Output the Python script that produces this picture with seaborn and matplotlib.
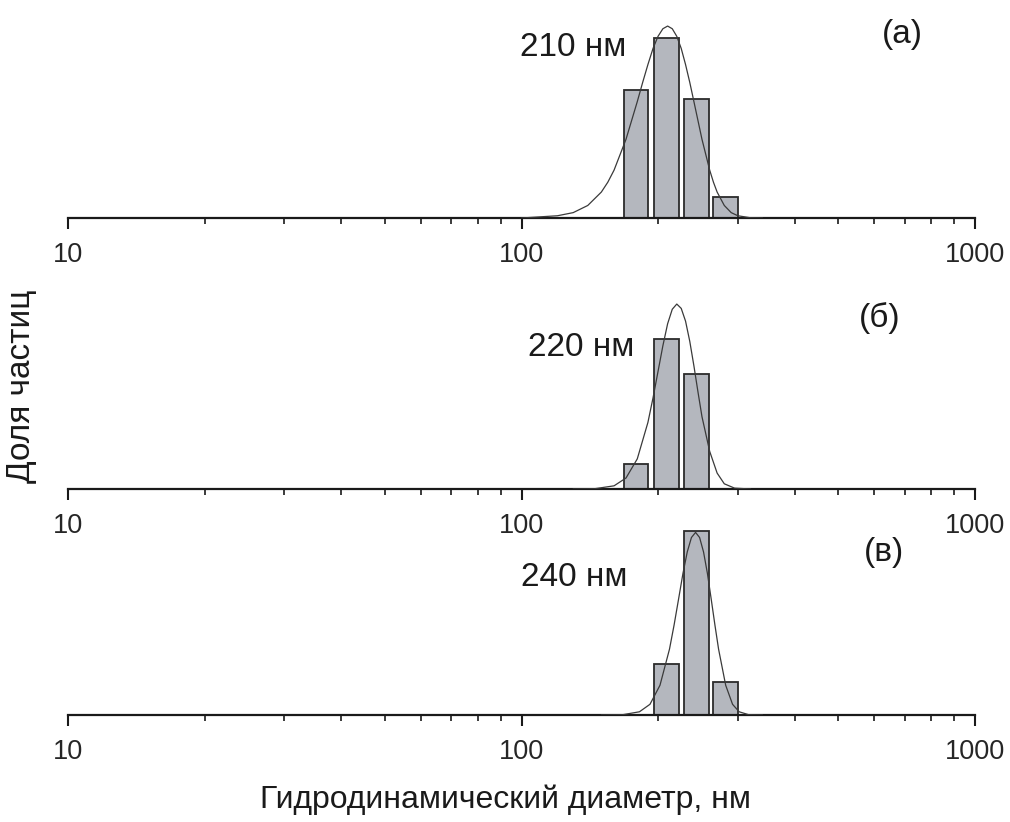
import numpy as np
import seaborn as sns
import matplotlib.pyplot as plt
from matplotlib.ticker import FixedLocator, LogLocator, NullFormatter

# histogram bins (bar centres, nm) and particle share (%) per sample
bins_a = [179, 209, 243, 282]
share_a = [28.7, 40.2, 26.5, 4.7]
bins_b = [179, 209, 243]
share_b = [8.5, 51.8, 39.6]
bins_c = [209, 243, 282]
share_c = [19.0, 68.8, 12.2]

# fitted distribution curves
curve_a_x = [100, 120, 130, 140, 150, 155, 160, 170, 180, 185, 190, 195, 200, 205, 210,
             215, 220, 225, 230, 235, 240, 250, 260, 265, 270, 280, 290, 300, 320, 340]
curve_a_y = [0.0, 0.5, 1.2, 2.8, 5.8, 8.0, 10.7, 17.6, 26.0, 30.3, 34.3, 37.9, 40.6, 42.3, 42.9,
             42.3, 40.6, 37.9, 34.3, 30.3, 26.0, 17.6, 10.7, 8.0, 5.8, 2.8, 1.2, 0.5, 0.05, 0.0]
curve_b_x = [130, 145, 160, 170, 180, 190, 195, 200, 205, 210, 215, 220,
             225, 230, 235, 240, 245, 250, 260, 270, 280, 295, 320]
curve_b_y = [0.0, 0.1, 1.1, 3.8, 10.4, 23.0, 31.5, 40.6, 49.5, 57.1, 62.1, 63.9,
             62.4, 58.0, 51.0, 42.5, 33.5, 25.0, 13.0, 5.5, 1.8, 0.3, 0.0]
curve_c_x = [150, 167, 182, 192, 202, 212, 217, 222, 227, 232, 237, 242,
             247, 252, 257, 262, 267, 272, 282, 292, 302, 317, 340]
curve_c_y = [0.0, 0.1, 1.2, 4.0, 11.1, 24.6, 33.6, 43.3, 52.9, 60.9, 66.3, 68.2,
             66.3, 60.9, 52.9, 43.3, 33.6, 24.6, 11.1, 4.0, 1.2, 0.1, 0.0]

peak_labels = ["210 нм", "220 нм", "240 нм"]
panel_labels = ["(а)", "(б)", "(в)"]
ymax = [44.7, 69.1, 74.7]

sns.set_theme(style="white")
plt.rcParams['font.family'] = ['Liberation Sans', 'DejaVu Sans']

W, H = 1010, 822
fig = plt.figure(figsize=(W / 100, H / 100), dpi=100)


def px_axes(left, bottom, right, top):
    return fig.add_axes([left / W, 1 - bottom / H, (right - left) / W, (bottom - top) / H])


panels = [
    (bins_a, share_a, curve_a_x, curve_a_y, 218),
    (bins_b, share_b, curve_b_x, curve_b_y, 489),
    (bins_c, share_c, curve_c_x, curve_c_y, 715),
]
peak_pos = [(573, 47), (581, 347), (574, 577)]
panel_pos = [(902, 35), (880, 318), (884, 552)]

half = 10 ** (0.0541 / 2)
for i, (bins, share, cx, cy, base) in enumerate(panels):
    ax = px_axes(68, base, 975, base - 200)
    centres = np.array(bins, dtype=float)
    lefts = centres / half
    widths = centres * half - lefts
    ax.bar(lefts, share, width=widths, align='edge', color='#b4b7be',
           edgecolor='#2b2b2b', linewidth=1.3, zorder=2)
    sns.lineplot(x=cx, y=cy, ax=ax, color='#3a3a3a', linewidth=0.9, zorder=3)
    ax.set_xscale('log')
    ax.set_xlim(10, 1000)
    ax.set_ylim(0, ymax[i])
    ax.xaxis.set_major_locator(FixedLocator([10, 100, 1000]))
    ax.set_xticklabels(["10", "100", "1000"])
    ax.xaxis.set_minor_locator(LogLocator(base=10, subs=np.arange(2, 10)))
    ax.xaxis.set_minor_formatter(NullFormatter())
    ax.set_yticks([])
    ax.set_xlabel('')
    ax.set_ylabel('')
    for s in ['left', 'top', 'right']:
        ax.spines[s].set_visible(False)
    ax.spines['bottom'].set_color('#1a1a1a')
    ax.spines['bottom'].set_linewidth(1.6)
    ax.tick_params(axis='x', which='major', direction='out', length=8, width=1.5,
                   color='#1a1a1a', labelsize=19.5, pad=9, bottom=True)
    ax.tick_params(axis='x', which='minor', direction='out', length=4, width=1.2,
                   color='#1a1a1a', bottom=True)
    ax.patch.set_alpha(0)
    px, py = peak_pos[i]
    fig.text(px / W, 1 - py / H, peak_labels[i], fontsize=24, ha='center', va='center',
             color='#1a1a1a')
    lx, ly = panel_pos[i]
    fig.text(lx / W, 1 - ly / H, panel_labels[i], fontsize=24, ha='center', va='center',
             color='#1a1a1a')

fig.text(22 / W, 1 - 386 / H, "Доля частиц", fontsize=24, rotation=90,
         ha='center', va='center', color='#1a1a1a')
fig.text(505 / W, 1 - 800 / H, "Гидродинамический диаметр, нм", fontsize=23,
         ha='center', va='center', color='#1a1a1a')

fig.savefig("out.png", dpi=100, facecolor='white')
